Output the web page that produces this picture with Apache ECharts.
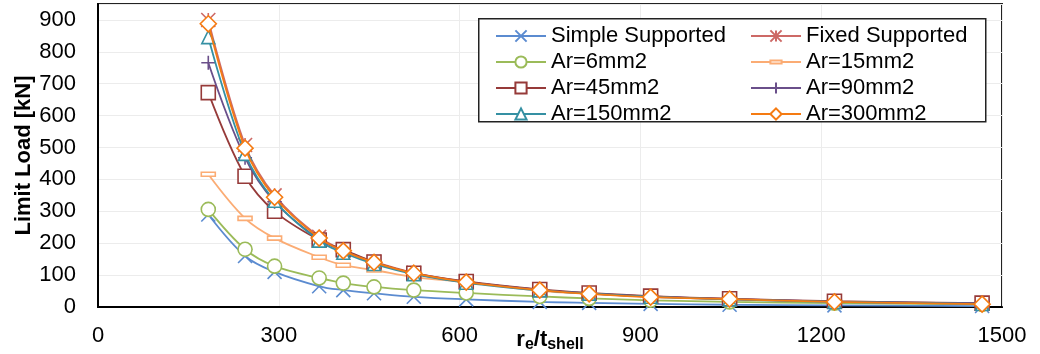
<!DOCTYPE html>
<html>
<head>
<meta charset="utf-8">
<script src="https://cdn.jsdelivr.net/npm/echarts@6/dist/echarts.min.js"></script>
<style>
  html, body { margin: 0; padding: 0; background: #fff; }
  #chart { width: 1040px; height: 354px; }
</style>
</head>
<body>
<div id="chart"></div>
<script>
// r_e / t_shell
const ratio = [183, 244, 293, 367, 407, 458, 524, 611, 733, 815, 917, 1048, 1222, 1467];
// limit load [kN]
const simpleSupported = [290, 160, 110, 65, 53, 43, 32, 24, 16, 13, 10, 7, 5, 3];
const fixedSupported = [900, 508, 350, 220, 178, 142, 107, 79, 54, 42, 32, 25, 17, 10];
const ar6 = [306, 181, 128, 91, 75, 63, 53, 44, 33, 27, 21, 16, 12, 8];
const ar15 = [416, 278, 216, 156, 131, 116, 94, 78, 51, 42, 33, 24, 17, 11];
const ar45 = [672, 410, 300, 210, 180, 141, 106, 80, 55, 44, 34, 26, 18, 12];
const ar90 = [766, 468, 330, 212, 176, 139, 105, 78, 54, 43, 33, 25, 17, 11];
const ar150 = [846, 480, 333, 208, 170, 135, 103, 76, 52, 42, 32, 24, 16, 10];
const ar300 = [888, 498, 344, 216, 176, 140, 106, 78, 53, 41, 31, 25, 16, 9];

const xTicks = [0, 300, 600, 900, 1200, 1500];
const yTicks = [0, 100, 200, 300, 400, 500, 600, 700, 800, 900];

const font = 'Arial, "Liberation Sans", sans-serif';

// 系列定义: 名称, 数据, 颜色, 标记
const seriesDefs = [
  { name: 'Simple Supported', data: simpleSupported, color: '#5b8bd0', symbol: 'path://M0,0L10,10M10,0L0,10', size: 14 },
  { name: 'Fixed Supported', data: fixedSupported, color: '#cd6966', symbol: 'path://M0,0L10,10M10,0L0,10M5,0L5,10', size: 14 },
  { name: 'Ar=6mm2', data: ar6, color: '#9bbb59', symbol: 'circle', size: 14 },
  // 扁平短横: 用不可见的 moveTo 撑出正方形边界
  { name: 'Ar=15mm2', data: ar15, color: '#fbac74', symbol: 'path://M0,0M14,14M0,5L14,5L14,9L0,9Z', size: 14 },
  { name: 'Ar=45mm2', data: ar45, color: '#963a39', symbol: 'rect', size: 14 },
  { name: 'Ar=90mm2', data: ar90, color: '#6a4f8a', symbol: 'path://M5,0L5,10M0,5L10,5', size: 14 },
  { name: 'Ar=150mm2', data: ar150, color: '#3590a3', symbol: 'triangle', size: 13 },
  { name: 'Ar=300mm2', data: ar300, color: '#f57b12', symbol: 'diamond', size: 16 }
];

const chart = echarts.init(document.getElementById('chart'));

const series = seriesDefs.map((s, i) => ({
  name: s.name,
  type: 'line',
  smooth: 0.35,
  data: ratio.map((x, k) => [x, s.data[k]]),
  symbol: s.symbol,
  symbolSize: s.size,
  z: 2 + i,
  lineStyle: { color: s.color, width: 1.8 },
  itemStyle: { color: '#fff', borderColor: s.color, borderWidth: 1.6 }
}));

const legendCommon = {
  orient: 'vertical',
  top: 20,
  itemWidth: 50,
  itemHeight: 14,
  itemGap: 4,
  textStyle: { fontFamily: font, fontSize: 22, lineHeight: 22, color: '#000' }
};

const option = {
  backgroundColor: '#fff',
  animation: false,
  grid: {
    left: 98,
    right: 38,
    top: 4,
    bottom: 47,
    outerBoundsMode: 'none',
    show: true,
    borderColor: '#222',
    borderWidth: 2
  },
  graphic: [
    {
      type: 'rect',
      left: 478,
      top: 18,
      z: 1,
      shape: { width: 507, height: 103 },
      style: { fill: '#fff', stroke: '#222', lineWidth: 1.5 }
    }
  ],
  legend: [
    Object.assign({ left: 490, data: seriesDefs.filter((d, i) => i % 2 === 0).map(d => d.name) }, legendCommon),
    Object.assign({ left: 745, data: seriesDefs.filter((d, i) => i % 2 === 1).map(d => d.name) }, legendCommon)
  ],
  xAxis: {
    type: 'value',
    min: xTicks[0],
    max: xTicks[xTicks.length - 1],
    interval: xTicks[1] - xTicks[0],
    name: '{b|r}{s|e}{b|/t}{s|shell}',
    nameLocation: 'middle',
    nameGap: 22,
    nameMoveOverlap: false,
    nameTextStyle: {
      rich: {
        b: { fontFamily: font, fontSize: 22, fontWeight: 'bold', lineHeight: 22, verticalAlign: 'top', color: '#000' },
        s: { fontFamily: font, fontSize: 16, fontWeight: 'bold', lineHeight: 16, padding: [8, 0, 0, 0], verticalAlign: 'top', color: '#000' }
      }
    },
    axisLine: { lineStyle: { color: '#000', width: 2 } },
    axisTick: { show: false },
    axisLabel: { fontFamily: font, fontSize: 22, color: '#000', margin: 18, formatter: v => String(v) },
    splitLine: { show: true, lineStyle: { color: '#ececec', width: 1 } }
  },
  yAxis: {
    type: 'value',
    min: yTicks[0],
    max: 950,
    interval: yTicks[1] - yTicks[0],
    name: 'Limit Load [kN]',
    nameLocation: 'middle',
    nameGap: 63,
    nameMoveOverlap: false,
    nameTextStyle: { fontFamily: font, fontSize: 22, fontWeight: 'bold', color: '#000' },
    axisLine: { show: true, lineStyle: { color: '#000', width: 2 } },
    axisTick: { show: false },
    axisLabel: { fontFamily: font, fontSize: 22, color: '#000', margin: 22, showMaxLabel: false },
    splitLine: { show: true, lineStyle: { color: '#ececec', width: 1 } }
  },
  series: series
};

chart.setOption(option);
</script>
</body>
</html>
